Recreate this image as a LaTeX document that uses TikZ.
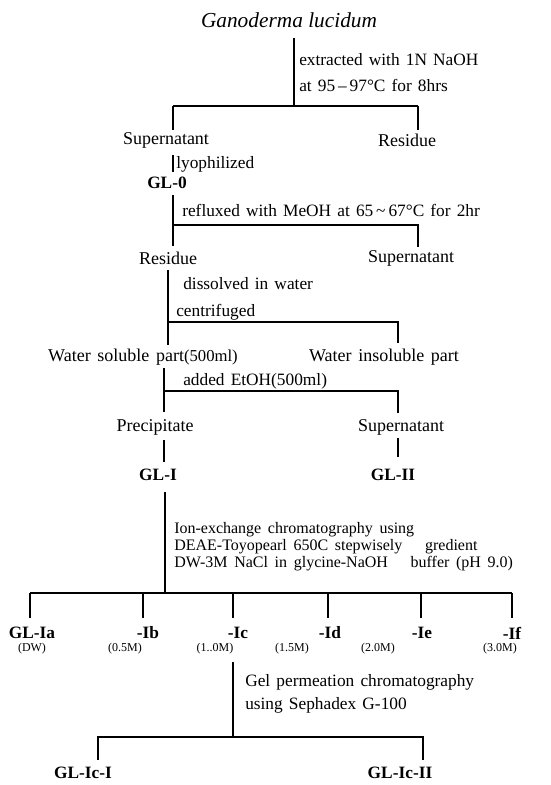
\documentclass[tikz,border=0pt]{standalone}
\usepackage{fontspec}
\setmainfont{Liberation Serif}
\newcommand\wsp[1]{\spaceskip=#1 plus 1pt\relax}
\begin{document}
\begin{tikzpicture}[x=0.75pt,y=-0.75pt,
  lbl/.style={font=\fontsize{13.5}{16}\selectfont\wsp{5pt},inner sep=0pt},
  note/.style={font=\fontsize{13}{15}\selectfont\wsp{4.6pt},inner sep=0pt,anchor=west},
  inote/.style={font=\fontsize{12}{14}\selectfont\wsp{5pt},inner sep=0pt,anchor=west},
  bl/.style={font=\bfseries\fontsize{13}{15}\selectfont,inner sep=0pt},
  sm/.style={font=\fontsize{9}{11}\selectfont,inner sep=0pt},
  ln/.style={line width=0.8pt}]
\useasboundingbox (0,0) rectangle (550,785);
% top
\node[font=\itshape\fontsize{16}{18}\selectfont,inner sep=0pt] (gano) at (289,20) {Ganoderma lucidum};
\coordinate (t0) at (294,38);
\coordinate (t1) at (294,106);
\coordinate (t1l) at (173,106);
\coordinate (t1r) at (418,106);
\coordinate (t1ld) at (173,130);
\coordinate (t1rd) at (418,130);
\draw[ln] (t0) -- (t1);
\draw[ln] (t1l) -- (t1r);
\draw[ln] (t1l) -- (t1ld);
\draw[ln] (t1r) -- (t1rd);
\node[note] (n1a) at (299,60) {extracted with 1N NaOH};
\node[note] (n1b) at (299,85) {at 95\,–\,97°C for 8hrs};
\node[lbl] (sup1) at (166,140) {Supernatant};
\node[lbl] (res1) at (407,140) {Residue};
% lyophilized
\coordinate (l0) at (173,155);
\coordinate (l1) at (173,172);
\draw[ln] (l0) -- (l1);
\node[note] (n2) at (176,164) {lyophilized};
\node[bl] (gl0) at (167,183) {GL-0};
% refluxed
\coordinate (r0) at (173,195);
\coordinate (r1) at (173,225);
\coordinate (r1r) at (418,225);
\coordinate (r1ld) at (173,246);
\coordinate (r1rd) at (418,247);
\draw[ln] (r0) -- (r1ld);
\draw[ln] (r1) -- (r1r) -- (r1rd);
\node[note] (n3) at (182,210) {refluxed with MeOH at 65\,\textasciitilde\,67°C for 2hr};
\node[lbl] (res2) at (168,258) {Residue};
\node[lbl] (sup2) at (411,258) {Supernatant};
% dissolved
\coordinate (d0) at (168,270);
\coordinate (d1) at (168,322);
\coordinate (d1r) at (398,322);
\coordinate (d1ld) at (168,345);
\coordinate (d1rd) at (398,343);
\draw[ln] (d0) -- (d1ld);
\draw[ln] (d1) -- (d1r) -- (d1rd);
\node[note] (n4a) at (183,284) {dissolved in water};
\node[note] (n4b) at (176,312) {centrifuged};
\node[lbl] (ws) at (143,357) {Water soluble part{\fontsize{12.5}{14}\selectfont(500ml)}};
\node[lbl] (wi) at (384,357) {Water insoluble part};
% EtOH
\coordinate (e0) at (164,368);
\coordinate (e1) at (164,391);
\coordinate (e1r) at (398,391);
\coordinate (e1ld) at (164,412);
\coordinate (e1rd) at (398,413);
\draw[ln] (e0) -- (e1ld);
\draw[ln] (e1) -- (e1r) -- (e1rd);
\node[note] (n5) at (183,381) {added EtOH(500ml)};
\node[lbl] (prec) at (155,427) {Precipitate};
\node[lbl] (sup3) at (401,427) {Supernatant};
\coordinate (p0) at (164,440);
\coordinate (p1) at (164,462);
\coordinate (s0) at (398,438);
\coordinate (s1) at (398,457);
\draw[ln] (p0) -- (p1);
\draw[ln] (s0) -- (s1);
\node[bl] (gl1) at (158,475) {GL-I};
\node[bl] (gl2) at (393,475) {GL-II};
% ion exchange
\coordinate (i0) at (165,492);
\coordinate (i1) at (165,593);
\coordinate (ia) at (30,593);
\coordinate (if) at (512,593);
\draw[ln] (i0) -- (i1);
\draw[ln] (ia) -- (if);
\foreach \x/\n in {30/a,143/b,233/c,328/d,421/e,512/f}{
  \coordinate (dt\n) at (\x,593);
  \coordinate (db\n) at (\x,618);
  \draw[ln] (dt\n) -- (db\n);
}
\node[inote] (n6a) at (174,530) {Ion-exchange chromatography using};
\node[inote] (n6b) at (174,547) {DEAE-Toyopearl 650C stepwisely \hspace{12pt}gredient};
\node[inote] (n6c) at (174,564) {DW-3M NaCl in glycine-NaOH \hspace{12pt}buffer (pH 9.0)};
\node[bl] (gla) at (32,633) {GL-Ia};
\node[bl] (glb) at (148,633) {-Ib};
\node[bl] (glc) at (238,633) {-Ic};
\node[bl] (gld) at (330,633) {-Id};
\node[bl] (gle) at (422,633) {-Ie};
\node[bl] (glf) at (512,633) {-If};
\node[sm] (ca) at (32,649) {(DW)};
\node[sm] (cb) at (125,649) {(0.5M)};
\node[sm] (cc) at (215,649) {(1..0M)};
\node[sm] (cd) at (292,649) {(1.5M)};
\node[sm] (ce) at (378,649) {(2.0M)};
\node[sm] (cf) at (500,649) {(3.0M)};
% gel permeation
\coordinate (g0) at (233,662);
\coordinate (g1) at (233,737);
\coordinate (g1l) at (98,737);
\coordinate (g1r) at (423,737);
\coordinate (g1ld) at (98,760);
\coordinate (g1rd) at (423,760);
\draw[ln] (g0) -- (g1);
\draw[ln] (g1ld) -- (g1l) -- (g1r) -- (g1rd);
\node[note] (n7a) at (245,682) {Gel permeation chromatography};
\node[note] (n7b) at (245,705) {using Sephadex G-100};
\node[bl] (glc1) at (83,773) {GL-Ic-I};
\node[bl] (glc2) at (400,773) {GL-Ic-II};
\end{tikzpicture}
\end{document}
